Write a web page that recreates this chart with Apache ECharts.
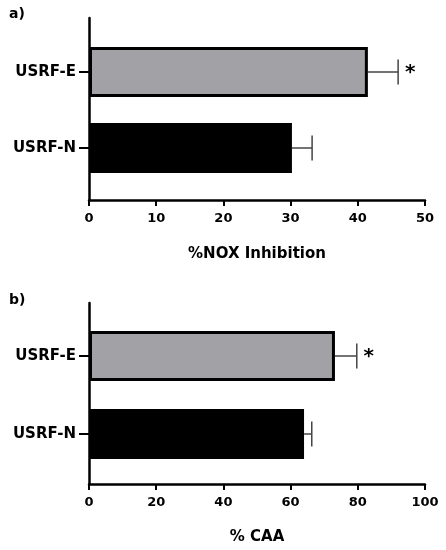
<!DOCTYPE html>
<html>
<head>
<meta charset="utf-8">
<script src="https://cdn.jsdelivr.net/npm/echarts@6/dist/echarts.min.js"></script>
<style>
  html, body { margin: 0; padding: 0; background: #fff; }
</style>
</head>
<body>
<div id="main" style="width: 446px; height: 550px; background: white"></div>
<script>
// data
var categories = ["USRF-N", "USRF-E"];
var noxValues = [30.2, 41.5];
var noxErrors = [3.0, 4.5];
var caaValues = [64.0, 73.2];
var caaErrors = [2.3, 6.5];
var signif = [false, true];

var fontFamily = "DejaVu Sans, Arial, sans-serif";
var barColors = ["#000000", "#a2a2a6"];

var myChart = echarts.init(document.getElementById("main"));

function barData(values) {
  return values.map(function (v, i) {
    return {
      value: v,
      itemStyle: {
        color: barColors[i],
        borderColor: "#000",
        borderWidth: i === 1 ? 3 : 0,
      },
    };
  });
}

function errData(values, errors) {
  return values.map(function (v, i) {
    return [v, errors[i], i, signif[i] ? 1 : 0];
  });
}

function renderError(params, api) {
  var v = api.value(0);
  var e = api.value(1);
  var c = api.value(2);
  var start = api.coord([v, c]);
  var end = api.coord([v + e, c]);
  var h = 25;
  var children = [
    {
      type: "line",
      shape: { x1: start[0], y1: start[1], x2: end[0], y2: end[1] },
      style: { stroke: "#444", lineWidth: 1.5 },
    },
    {
      type: "line",
      shape: { x1: end[0], y1: end[1] - h / 2, x2: end[0], y2: end[1] + h / 2 },
      style: { stroke: "#444", lineWidth: 1.5 },
    },
  ];
  if (api.value(3)) {
    children.push({
      type: "text",
      style: {
        text: "*",
        x: end[0] + 12,
        y: end[1] + 1,
        align: "center",
        verticalAlign: "middle",
        fill: "#000",
        font: "bold 20px " + fontFamily,
      },
    });
  }
  return { type: "group", children: children };
}

function valueAxis(gridIndex, max, interval, name, nameGap) {
  return {
    gridIndex: gridIndex,
    type: "value",
    min: 0,
    max: max,
    interval: interval,
    name: name,
    nameLocation: "middle",
    nameGap: nameGap,
    nameTextStyle: {
      color: "#000",
      fontFamily: fontFamily,
      fontWeight: "bold",
      fontSize: 15,
    },
    splitLine: { show: false },
    axisLine: { show: true, lineStyle: { color: "#000", width: 2.5 } },
    axisTick: { show: true, length: 6, lineStyle: { color: "#000", width: 2 } },
    axisLabel: {
      color: "#000",
      fontFamily: fontFamily,
      fontWeight: "bold",
      fontSize: 13,
      margin: 12,
    },
  };
}

function hiddenX(gridIndex, max) {
  return { gridIndex: gridIndex, type: "value", min: 0, max: max, show: false };
}

function lineY(gridIndex) {
  return {
    gridIndex: gridIndex,
    type: "value",
    axisLine: { show: true, lineStyle: { color: "#000", width: 2.5 } },
    axisTick: { show: false },
    axisLabel: { show: false },
    splitLine: { show: false },
  };
}

function catY(gridIndex) {
  return {
    gridIndex: gridIndex,
    type: "category",
    data: categories,
    axisLine: { show: false },
    axisTick: {
      show: true,
      alignWithLabel: true,
      length: 10,
      lineStyle: { color: "#000", width: 2 },
    },
    axisLabel: {
      color: "#000",
      fontFamily: fontFamily,
      fontWeight: "bold",
      fontSize: 15,
      margin: 13,
    },
  };
}

var option = {
  animation: false,
  title: [
    {
      text: "a)",
      left: 4,
      top: 2,
      textStyle: { color: "#000", fontFamily: fontFamily, fontWeight: "bold", fontSize: 14 },
    },
    {
      text: "b)",
      left: 4,
      top: 288,
      textStyle: { color: "#000", fontFamily: fontFamily, fontWeight: "bold", fontSize: 14 },
    },
  ],
  grid: [
    { left: 89, top: 18, width: 336, height: 182 },
    { left: 89, top: 34, width: 336, height: 152 },
    { left: 89, top: 303, width: 336, height: 181 },
    { left: 89, top: 317, width: 336, height: 156 },
  ],
  xAxis: [
    valueAxis(0, 50, 10, "%NOX Inhibition", 47),
    hiddenX(1, 50),
    valueAxis(2, 100, 20, "% CAA", 46),
    hiddenX(3, 100),
  ],
  yAxis: [lineY(0), catY(1), lineY(2), catY(3)],
  series: [
    {
      type: "bar",
      xAxisIndex: 1,
      yAxisIndex: 1,
      barCategoryGap: "34%",
      data: barData(noxValues),
    },
    {
      type: "custom",
      xAxisIndex: 1,
      yAxisIndex: 1,
      z: 3,
      renderItem: renderError,
      data: errData(noxValues, noxErrors),
    },
    {
      type: "bar",
      xAxisIndex: 3,
      yAxisIndex: 3,
      barCategoryGap: "36%",
      data: barData(caaValues),
    },
    {
      type: "custom",
      xAxisIndex: 3,
      yAxisIndex: 3,
      z: 3,
      renderItem: renderError,
      data: errData(caaValues, caaErrors),
    },
  ],
};

myChart.setOption(option);
</script>
</body>
</html>
